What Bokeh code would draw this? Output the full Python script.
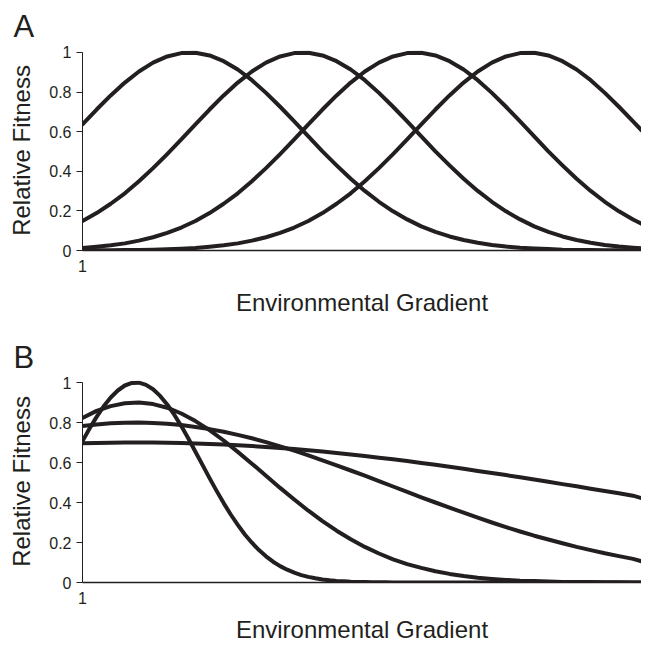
from bokeh.plotting import figure
from bokeh.models import Range1d, FixedTicker
from bokeh.layouts import column
from bokeh.embed import file_html
from bokeh.resources import INLINE

# ---------------- data ----------------
X = [1, 3.5, 6, 8.5, 11, 13.5, 16, 18.5, 21, 23.5, 26, 28.5, 31, 33.5, 36, 38.5,
     41, 43.5, 46, 48.5, 51, 53.5, 56, 58.5, 61, 63.5, 66, 68.5, 71, 73.5, 76,
     78.5, 81, 83.5, 86, 88.5, 91, 93.5, 96, 98.5, 100]

X_FINE = [1, 2.25, 3.5, 4.75, 6, 7.25, 8.5, 9.75, 11, 12.25, 13.5, 14.75, 16,
          17.25, 18.5, 19.75, 21, 22.25, 23.5, 24.75, 26, 27.25, 28.5, 29.75, 31,
          32.25, 33.5, 34.75, 36, 37.25, 38.5, 39.75, 41, 42.25, 43.5, 44.75, 46,
          47.25, 48.5, 49.75, 51, 52.25, 53.5, 54.75, 56, 100]

# Panel A: four equal-width fitness curves along the gradient
A1 = [0.637, 0.712, 0.783, 0.848, 0.904, 0.949, 0.980, 0.997, 0.999, 0.985,
      0.956, 0.914, 0.860, 0.796, 0.726, 0.652, 0.576, 0.501, 0.430, 0.362,
      0.301, 0.246, 0.198, 0.157, 0.122, 0.094, 0.071, 0.053, 0.039, 0.028,
      0.020, 0.014, 0.010, 0.007, 0.004, 0.003, 0.002, 0.001, 0.001, 0.000,
      0.000]
A2 = [0.149, 0.189, 0.236, 0.289, 0.350, 0.416, 0.487, 0.561, 0.637, 0.712,
      0.783, 0.848, 0.904, 0.949, 0.980, 0.997, 0.999, 0.985, 0.956, 0.914,
      0.860, 0.796, 0.726, 0.652, 0.576, 0.501, 0.430, 0.362, 0.301, 0.246,
      0.198, 0.157, 0.122, 0.094, 0.071, 0.053, 0.039, 0.028, 0.020, 0.014,
      0.011]
A3 = [0.013, 0.019, 0.026, 0.036, 0.050, 0.067, 0.089, 0.116, 0.149, 0.189,
      0.236, 0.289, 0.350, 0.416, 0.487, 0.561, 0.637, 0.712, 0.783, 0.848,
      0.904, 0.949, 0.980, 0.997, 0.999, 0.985, 0.956, 0.914, 0.860, 0.796,
      0.726, 0.652, 0.576, 0.501, 0.430, 0.362, 0.301, 0.246, 0.198, 0.157,
      0.135]
A4 = [0.000, 0.001, 0.001, 0.002, 0.003, 0.004, 0.006, 0.009, 0.013, 0.019,
      0.026, 0.036, 0.050, 0.067, 0.089, 0.116, 0.149, 0.189, 0.236, 0.289,
      0.350, 0.416, 0.487, 0.561, 0.637, 0.712, 0.783, 0.848, 0.904, 0.949,
      0.980, 0.997, 0.999, 0.985, 0.956, 0.914, 0.860, 0.796, 0.726, 0.652,
      0.607]

# Panel B: same optimum, increasing breadth, decreasing peak
B1 = [0.707, 0.770, 0.828, 0.881, 0.925, 0.960, 0.985, 0.998, 0.999, 0.988,
      0.966, 0.933, 0.890, 0.839, 0.782, 0.720, 0.654, 0.588, 0.522, 0.458,
      0.397, 0.340, 0.288, 0.240, 0.199, 0.162, 0.131, 0.104, 0.082, 0.064,
      0.049, 0.037, 0.028, 0.021, 0.015, 0.011, 0.008, 0.006, 0.004, 0.003,
      0.002, 0.001, 0.001, 0.001, 0.000, 0.000]
B2 = [0.823, 0.858, 0.882, 0.896, 0.900, 0.892, 0.874, 0.845, 0.807, 0.762,
      0.710, 0.653, 0.594, 0.534, 0.473, 0.415, 0.359, 0.307, 0.259, 0.216,
      0.178, 0.145, 0.116, 0.092, 0.073, 0.056, 0.043, 0.032, 0.024, 0.018,
      0.013, 0.009, 0.007, 0.005, 0.003, 0.002, 0.002, 0.001, 0.001, 0.000,
      0.000]
B3 = [0.782, 0.790, 0.796, 0.799, 0.800, 0.798, 0.794, 0.787, 0.778, 0.767,
      0.754, 0.738, 0.721, 0.702, 0.681, 0.659, 0.636, 0.611, 0.586, 0.560,
      0.534, 0.507, 0.480, 0.453, 0.426, 0.400, 0.374, 0.349, 0.324, 0.300,
      0.277, 0.255, 0.234, 0.215, 0.196, 0.178, 0.162, 0.146, 0.132, 0.118,
      0.106]
B4 = [0.696, 0.698, 0.699, 0.700, 0.700, 0.700, 0.699, 0.697, 0.695, 0.693,
      0.690, 0.686, 0.682, 0.678, 0.672, 0.667, 0.661, 0.655, 0.648, 0.640,
      0.633, 0.624, 0.616, 0.607, 0.598, 0.589, 0.579, 0.569, 0.558, 0.548,
      0.537, 0.526, 0.515, 0.504, 0.492, 0.481, 0.469, 0.458, 0.446, 0.434,
      0.422]

Y_TICKS = [0, 0.2, 0.4, 0.6, 0.8, 1]
Y_TICK_LABELS = ["0", "0.2", "0.4", "0.6", "0.8", "1"]
X_TICKS = [1]
X_TICK_LABELS = ["1"]
X_TITLE = "Environmental Gradient"
Y_TITLE = "Relative Fitness"

# ---------------- styling ----------------
INK = "#231f20"
FONT = "Liberation Sans"


def make_panel(letter, series, height, border_top, border_bottom, xlabel_standoff,
               title_standoff):
    p = figure(width=641, height=height,
               x_range=Range1d(1, 100), y_range=Range1d(0, 1.01),
               output_backend="svg", toolbar_location=None, title=letter,
               min_border_left=82, min_border_right=0,
               min_border_top=border_top, min_border_bottom=border_bottom)
    p.outline_line_color = None
    p.xgrid.visible = False
    p.ygrid.visible = False
    p.background_fill_color = "white"
    p.border_fill_color = "white"

    p.title.text_font = FONT
    p.title.text_font_size = "31px"
    p.title.text_font_style = "normal"
    p.title.text_color = INK
    p.title.align = "left"
    p.title.offset = -69
    p.title.standoff = title_standoff

    for xs, ys in series:
        p.line(xs, ys, line_width=4, line_color=INK,
               line_cap="round", line_join="round")

    # y axis
    ya = p.yaxis[0]
    ya.ticker = FixedTicker(ticks=Y_TICKS)
    ya.major_label_overrides = dict(zip(Y_TICKS, Y_TICK_LABELS))
    ya.bounds = (0, 1)
    ya.axis_line_color = INK
    ya.axis_line_width = 1
    ya.major_tick_line_color = INK
    ya.major_tick_out = 6
    ya.major_tick_in = 0
    ya.minor_tick_line_color = None
    ya.major_label_text_font = FONT
    ya.major_label_text_font_size = "16px"
    ya.major_label_text_color = INK
    ya.major_label_standoff = 5
    ya.axis_label = Y_TITLE
    ya.axis_label_text_font = FONT
    ya.axis_label_text_font_size = "24px"
    ya.axis_label_text_font_style = "normal"
    ya.axis_label_text_color = INK
    ya.axis_label_standoff = 11

    # x axis
    xa = p.xaxis[0]
    xa.ticker = FixedTicker(ticks=X_TICKS)
    xa.major_label_overrides = dict(zip(X_TICKS, X_TICK_LABELS))
    xa.bounds = (1, 100)
    xa.axis_line_color = INK
    xa.axis_line_width = 1.5
    xa.major_tick_line_color = None
    xa.major_tick_out = 0
    xa.major_tick_in = 0
    xa.minor_tick_line_color = None
    xa.major_label_text_font = FONT
    xa.major_label_text_font_size = "16px"
    xa.major_label_text_color = INK
    xa.major_label_text_align = "left"
    xa.major_label_standoff = 9
    xa.axis_label = X_TITLE
    xa.axis_label_text_font = FONT
    xa.axis_label_text_font_size = "24px"
    xa.axis_label_text_font_style = "normal"
    xa.axis_label_text_color = INK
    xa.axis_label_standoff = xlabel_standoff
    return p


pa = make_panel("A", [(X, A1), (X, A2), (X, A3), (X, A4)], 330, 48, 80, 14, 13)
pb = make_panel("B", [(X_FINE, B1), (X, B2), (X, B3), (X, B4)], 315, 50, 63, 9, 11)

layout = column(pa, pb, spacing=0)
open("out.html", "w").write(file_html(layout, INLINE))
